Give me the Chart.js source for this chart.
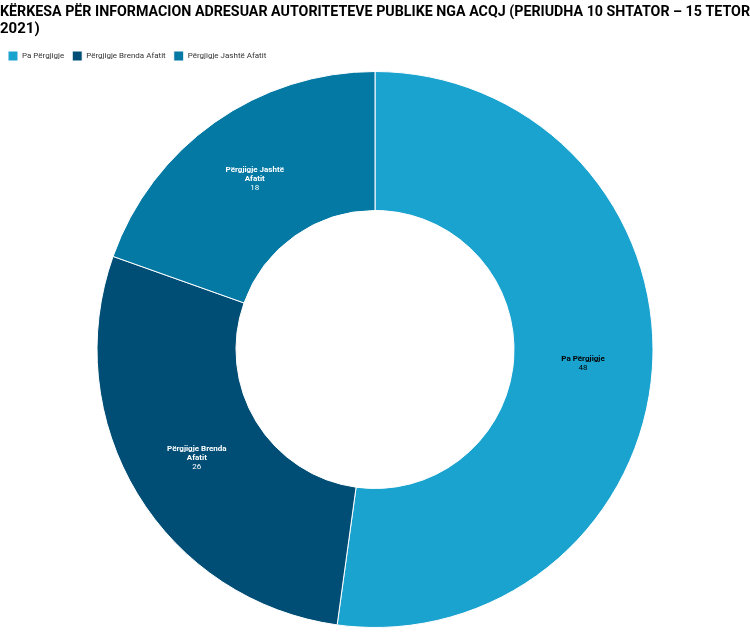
<!DOCTYPE html>
<html>
<head>
<meta charset="utf-8">
<script src="https://cdn.jsdelivr.net/npm/chart.js@4"></script>
<style>
  html, body { margin: 0; padding: 0; background: #fff; }
  #wrap { width: 750px; height: 640px; }
</style>
</head>
<body>
<div id="wrap"><canvas id="chart"></canvas></div>
<script>
const categories = ['Pa Përgjigje', 'Përgjigje Brenda Afatit', 'Përgjigje Jashtë Afatit'];
const labelLines = [['Pa Përgjigje'], ['Përgjigje Brenda', 'Afatit'], ['Përgjigje Jashtë', 'Afatit']];
const values = [48, 26, 18];
const colors = ['#1ba3d0', '#004e75', '#0479a3'];
const labelColors = ['#000000', '#ffffff', '#ffffff'];

// Draw name + value in the middle of each slice
const sliceLabels = {
  id: 'sliceLabels',
  afterDatasetsDraw(chart) {
    const ctx = chart.ctx;
    chart.getDatasetMeta(0).data.forEach((arc, i) => {
      const p = arc.tooltipPosition();
      const lines = labelLines[i];
      ctx.save();
      ctx.fillStyle = labelColors[i];
      ctx.textAlign = 'center';
      ctx.textBaseline = 'middle';
      let y = p.y - (lines.length * 9) / 2;
      ctx.font = 'bold 8px Roboto';
      lines.forEach(l => { ctx.fillText(l, p.x, y); y += 9; });
      ctx.font = '8px Roboto';
      ctx.fillText(String(values[i]), p.x, y);
      ctx.restore();
    });
  }
};

new Chart(document.getElementById('chart'), {
  type: 'doughnut',
  data: {
    labels: categories,
    datasets: [{
      data: values,
      backgroundColor: colors,
      borderColor: '#ffffff',
      borderWidth: 1
    }]
  },
  options: {
    responsive: true,
    maintainAspectRatio: false,
    animation: false,
    cutout: '50%',
    layout: { padding: { bottom: 12 } },
    plugins: {
      title: {
        display: true,
        align: 'start',
        text: ['KËRKESA PËR INFORMACION ADRESUAR AUTORITETEVE PUBLIKE NGA ACQJ (PERIUDHA 10 SHTATOR – 15 TETOR', '2021)'],
        color: '#000',
        font: { family: 'Roboto', size: 15, weight: 'bold', lineHeight: 1.1 },
        padding: { top: 4, bottom: 6 }
      },
      legend: {
        position: 'top',
        align: 'start',
        labels: {
          boxWidth: 10,
          boxHeight: 10,
          padding: 8,
          color: '#333',
          font: { family: 'Roboto', size: 8 }
        }
      },
      tooltip: { enabled: false }
    }
  },
  plugins: [sliceLabels]
});
</script>
</body>
</html>
